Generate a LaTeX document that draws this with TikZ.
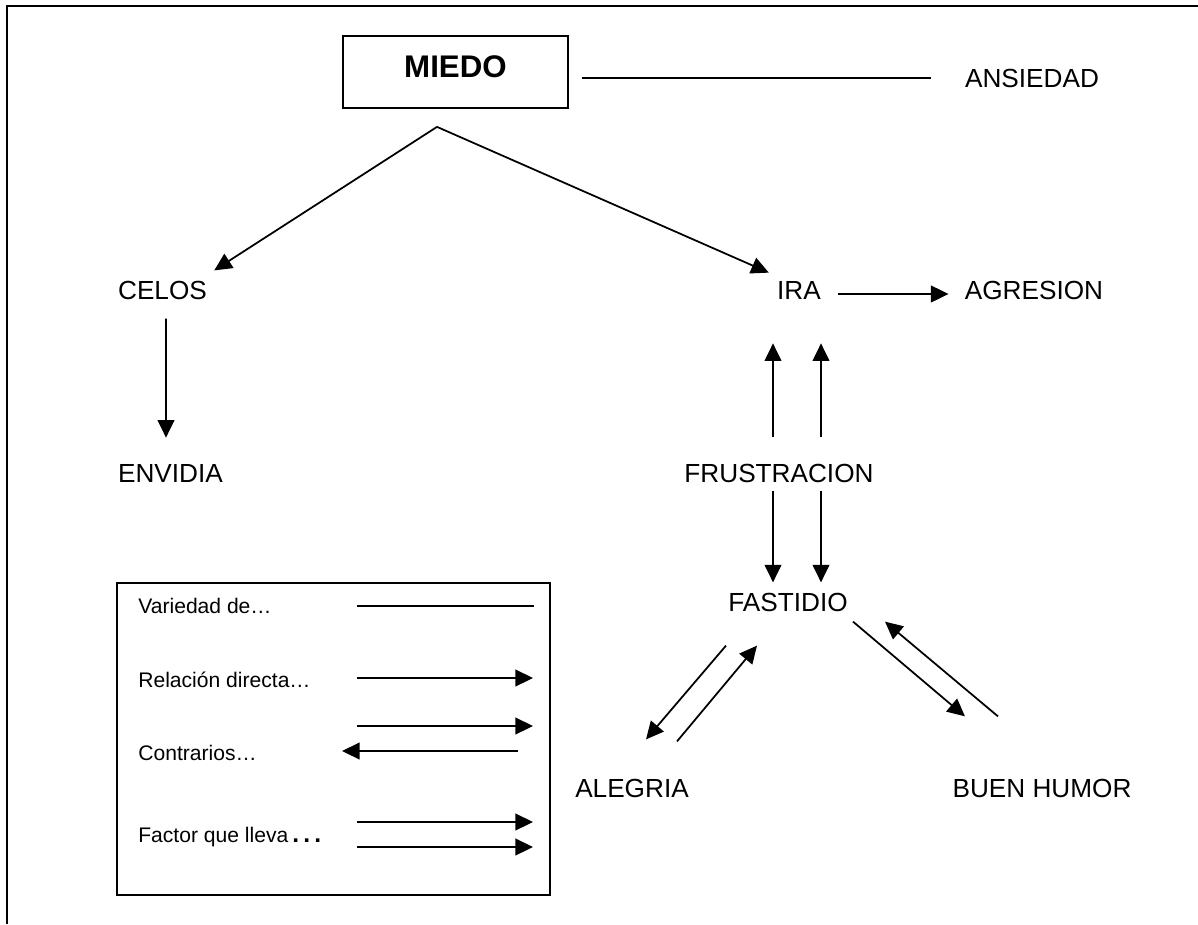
\documentclass[tikz,border=0pt]{standalone}
\usepackage{fontspec}
\setmainfont{Liberation Sans}
\usetikzlibrary{arrows.meta, calc}
\tikzset{
  etiqueta/.style={inner sep=0pt, font=\fontsize{14.9}{17}\selectfont},
  leyenda/.style={inner sep=0pt, anchor=west, font=\fontsize{12}{14}\selectfont},
  linea/.style={line width=1pt},
  flecha/.style={line width=1pt, -{Triangle[length=10pt,width=9.5pt]}}
}

\begin{document}
\begin{tikzpicture}[x=0.02cm, y=-0.02cm]
                \useasboundingbox (0,0) rectangle (1198,924);
                % Marco (solo lados superior e izquierdo)
                \draw[line width=1.4pt] (7,924) -- (7,6) -- (1198,6);

                % Emocion principal
                \node[draw, line width=1pt, minimum width=4.5cm, minimum height=1.44cm, text depth=0.2cm, font=\bfseries\fontsize{17.8}{20}\selectfont] (miedo) at (455.5,72) {MIEDO};
                \node[etiqueta] (ansiedad) at (1032,78) {ANSIEDAD};
                \draw[linea] ($(miedo.east)+(13,6)$) -- ($(ansiedad.west)+(-34,0)$);

                % Ramas de MIEDO
                \node[etiqueta] (celos) at (162.5,290) {CELOS};
                \node[etiqueta] (ira) at (799,290) {IRA};
                \node[etiqueta] (agresion) at (1034,290) {AGRESION};
                \node[etiqueta] (envidia) at (170.5,473) {ENVIDIA};
                \coordinate (vertice) at ($(miedo.south)+(-18.5,18)$);
                \draw[flecha] (vertice) -- ($(celos.north east)+(7,-10)$);
                \draw[flecha] (vertice) -- ($(ira.north west)+(-8,-8)$);
                \draw[flecha] ($(ira.east)+(17,4)$) -- ($(agresion.west)+(-16,4)$);
                \draw[flecha] ($(celos.south)+(3.5,19)$) -- ($(envidia.north)+(-4.5,-26)$);

                % Frustracion, ira y fastidio
                \node[etiqueta] (frustracion) at (779,473) {FRUSTRACION};
                \node[etiqueta] (fastidio) at (788,602) {FASTIDIO};
                \draw[flecha] ($(frustracion.north)+(-6,-26)$) -- ($(ira.south)+(-26,44)$);
                \draw[flecha] ($(frustracion.north)+(42,-26)$) -- ($(ira.south)+(22,44)$);
                \draw[flecha] ($(frustracion.south)+(-6,8)$) -- ($(fastidio.north)+(-15,-10)$);
                \draw[flecha] ($(frustracion.south)+(42,8)$) -- ($(fastidio.north)+(33,-10)$);

                % Contrarios de fastidio
                \node[etiqueta] (alegria) at (632,788) {ALEGRIA};
                \node[etiqueta] (buenhumor) at (1042,788) {BUEN HUMOR};
                \draw[flecha] ($(fastidio.south)+(-62,34)$) -- ($(alegria.north)+(14,-39)$);
                \draw[flecha] ($(alegria.north)+(45,-37)$) -- ($(fastidio.south)+(-31,34)$);
                \draw[flecha] ($(fastidio.south)+(65,10)$) -- ($(buenhumor.north)+(-77,-62)$);
                \draw[flecha] ($(buenhumor.north)+(-44,-62)$) -- ($(fastidio.south)+(97,10)$);

                % Leyenda
                \node[draw, line width=1pt, minimum width=8.66cm, minimum height=6.24cm] (cuadro) at (333.5,739) {};
                \node[leyenda] (variedad) at (138,606) {Variedad de…};
                \node[leyenda] (relacion) at (138,680) {Relación directa…};
                \node[leyenda] (contrarios) at (138,753) {Contrarios…};
                \node[leyenda] (factor) at (138,837) {Factor que lleva{\bfseries\fontsize{14}{14}\selectfont\,.\,.\,.}};
                \draw[linea] (357,606) -- (534,606);
                \draw[flecha] (357,678) -- (533,678);
                \draw[flecha] (357,726) -- (533,726);
                \draw[flecha] (518,751) -- (342,751);
                \draw[flecha] (357,822) -- (533,822);
                \draw[flecha] (357,847) -- (533,847);
            \end{tikzpicture}
\end{document}
